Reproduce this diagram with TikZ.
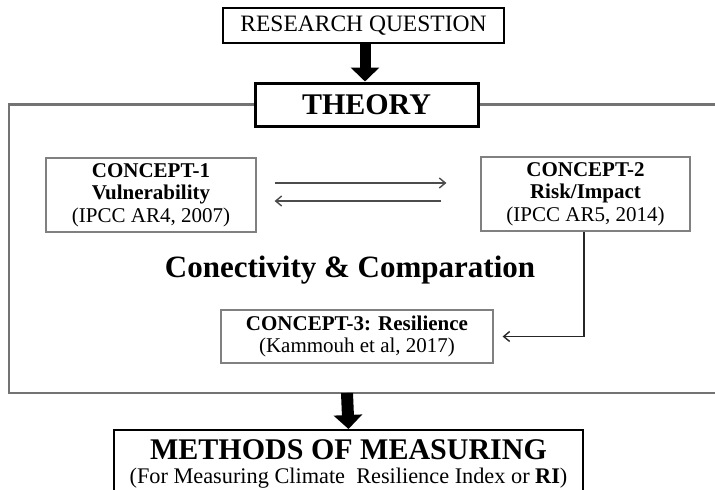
\documentclass[tikz,border=0pt]{standalone}
\usepackage{fontspec}
\setmainfont{Liberation Serif}
\usetikzlibrary{arrows.meta,calc}

\newcommand{\fs}[2]{\fontsize{#1}{#2}\selectfont}

\tikzset{
  thickbox/.style={draw=black, line width=#1, fill=white, inner sep=0pt},
  conceptbox/.style={draw=black!50, line width=1.2pt, fill=white, align=center,
    inner sep=0pt, font=\fs{21}{22.5}},
  frameline/.style={draw=black!55, line width=2.2pt},
  linkarrow/.style={draw=black!70, line width=1.4pt,
    -{Straight Barb[length=6pt,width=10pt,line width=1.4pt]}},
  blockarrow/.style={line width=#1, -{Triangle[width=28pt,length=14pt]}, draw=black},
}

\begin{document}
\begin{tikzpicture}[x=1pt,y=-1pt]
  \useasboundingbox (0,0) rectangle (715,490);
  \clip (0,0) rectangle (715,490);
  \fill[white] (0,0) rectangle (715,490);

  % theory frame
  \node[thickbox=3pt, minimum width=223pt, minimum height=43pt,
        font=\fs{30}{32}\bfseries] (theory) at (366.5,104.5) {THEORY};
  \draw[frameline] (theory.west) -- (9,104.5) -- (9,393) -- (725,393);
  \draw[frameline] (theory.east) -- (725,104.5);
  \coordinate (framebottom) at (347,393);

  % research question
  \node[thickbox=2pt, minimum width=281pt, minimum height=35pt,
        font=\fs{23.5}{25}] (rq) at (363.5,25.5) {RESEARCH QUESTION};
  \draw[blockarrow=11pt] ([xshift=1.5pt]rq.south) -- ([xshift=-1.5pt]theory.north);

  % concepts
  \node[conceptbox, minimum width=210pt, minimum height=74pt] (c1) at (151,195)
    {\textbf{CONCEPT-1}\\\textbf{Vulnerability}\\(IPCC AR4, 2007)};
  \node[conceptbox, minimum width=209pt, minimum height=74pt] (c2) at (585.5,194)
    {\textbf{CONCEPT-2}\\\textbf{Risk/Impact}\\(IPCC AR5, 2014)};
  \node[conceptbox, minimum width=272pt, minimum height=53pt] (c3) at (357,336.5)
    {\textbf{CONCEPT-3: Resilience}\\(Kammouh et al, 2017)};

  \draw[linkarrow] ([xshift=18pt,yshift=12pt]c1.east) -- ([xshift=-34pt,yshift=11pt]c2.west);
  \draw[linkarrow] ([xshift=-39pt,yshift=-7pt]c2.west) -- ([xshift=18pt,yshift=-6pt]c1.east);
  \draw[linkarrow, draw=black!85] ([xshift=-1.5pt]c2.south) |- ([xshift=9pt]c3.east);

  \node[font=\fs{31}{33}\bfseries] (conn) at (350,270) {Conectivity \& Comparation};

  % methods
  \node[draw=black, line width=1.5pt, fill=white, minimum width=469pt,
        minimum height=90pt, anchor=north, inner sep=0pt] (methods) at (348.5,429) {};
  \node[font=\fs{30}{32}\bfseries] (mtitle) at (348.5,450) {METHODS OF MEASURING};
  \node[font=\fs{22.3}{24}] (msub) at (348.5,478)
    {(For Measuring Climate~ Resilience Index or \textbf{RI})};
  \draw[blockarrow=12pt] (framebottom) -- (methods.north);
\end{tikzpicture}
\end{document}
